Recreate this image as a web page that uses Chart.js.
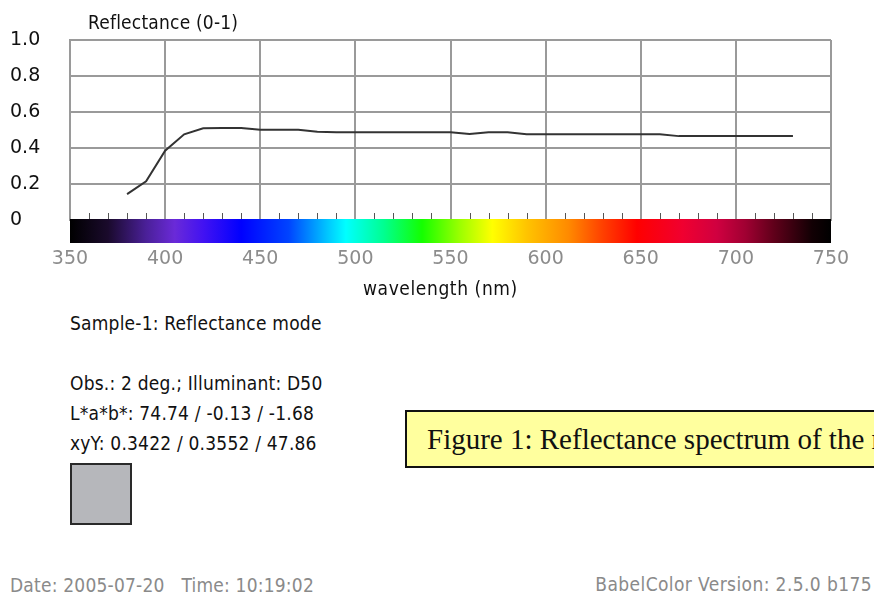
<!DOCTYPE html>
<html>
<head>
<meta charset="utf-8">
<script src="https://cdn.jsdelivr.net/npm/chart.js@4/dist/chart.umd.min.js"></script>
<style>
    html, body { margin: 0; padding: 0; background: #fff; }
    body { width: 874px; height: 595px; position: relative; overflow: hidden;
           font-family: 'DejaVu Sans Condensed', 'DejaVu Sans', sans-serif; font-size: 19px; color: #111; }
    #chart { position: absolute; left: 0; top: 0; }
    .t { position: absolute; white-space: nowrap; line-height: 20px; letter-spacing: 0.2px; }
    .grey { color: #8a8a8a; }
    #swatch { position: absolute; left: 70px; top: 463px; width: 58px; height: 58px;
              background: #b6b7bb; border: 2px solid #2a2a2a; }
    #caption { position: absolute; left: 405px; top: 410px; width: 520px; height: 54px;
               background: #ffff9e; border: 2px solid #111; }
    #caption span { position: absolute; left: 20px; top: 11px; white-space: nowrap;
                    font-family: 'Liberation Serif', serif; font-size: 29px; line-height: 32px; color: #111; }
</style>
</head>
<body>
<canvas id="chart" width="874" height="300"></canvas>

<div class="t" style="left:88px; top:12px;">Reflectance (0-1)</div>
<div class="t" style="left:363px; top:278px; letter-spacing:0.6px;">wavelength (nm)</div>

<div class="t" style="left:70px; top:313px;">Sample-1: Reflectance mode</div>
<div class="t" style="left:70px; top:373px;">Obs.: 2 deg.; Illuminant: D50</div>
<div class="t" style="left:70px; top:403px;">L*a*b*: 74.74 / -0.13 / -1.68</div>
<div class="t" style="left:70px; top:433px;">xyY: 0.3422 / 0.3552 / 47.86</div>
<div id="swatch"></div>

<div id="caption"><span>Figure 1: Reflectance spectrum of the reference sample</span></div>

<div class="t grey" style="left:10px; top:575px;">Date: 2005-07-20&nbsp;&nbsp;&nbsp;Time: 10:19:02</div>
<div class="t grey" style="right:2px; top:574px; letter-spacing:0.4px;">BabelColor Version: 2.5.0 b175</div>

<script>
const wavelengths = [380, 390, 400, 410, 420, 430, 440, 450, 460, 470,
                     480, 490, 500, 510, 520, 530, 540, 550, 560, 570,
                     580, 590, 600, 610, 620, 630, 640, 650, 660, 670,
                     680, 690, 700, 710, 720, 730];
const reflectance = [0.144, 0.215, 0.385, 0.476, 0.510, 0.511, 0.511, 0.502, 0.502, 0.502,
                     0.490, 0.488, 0.488, 0.488, 0.488, 0.488, 0.488, 0.487, 0.478, 0.487,
                     0.487, 0.477, 0.477, 0.477, 0.477, 0.477, 0.477, 0.477, 0.477, 0.466,
                     0.466, 0.466, 0.466, 0.466, 0.466, 0.466];
const xTicks = [350, 400, 450, 500, 550, 600, 650, 700, 750];
const yTicks = [0, 0.2, 0.4, 0.6, 0.8, 1.0];

// colour bar under the plot, wavelength -> colour
const spectrumStops = [
    [350, '#000000'], [370, '#1a0a2c'], [390, '#4a2098'], [405, '#6a2ad8'],
    [420, '#4212f2'], [440, '#0000ff'], [465, '#0044ff'], [485, '#00c4ff'],
    [495, '#00ffff'], [515, '#00ff90'], [535, '#14ff00'], [555, '#9cff00'],
    [572, '#ffff00'], [590, '#ffc400'], [612, '#ff8a00'], [630, '#ff4000'],
    [648, '#ff0000'], [672, '#f00030'], [690, '#d00040'], [705, '#a00032'],
    [720, '#60001a'], [740, '#120004'], [750, '#000000']
];

const spectrumBar = {
    id: 'spectrumBar',
    afterDraw(chart) {
        const ctx = chart.ctx;
        const area = chart.chartArea;
        const x = chart.scales.x;
        const x0 = x.getPixelForValue(350), x1 = x.getPixelForValue(750);
        const top = area.bottom - 1;
        const grad = ctx.createLinearGradient(x0, 0, x1, 0);
        spectrumStops.forEach(([wl, c]) => grad.addColorStop((wl - 350) / 400, c));
        ctx.save();
        ctx.fillStyle = grad;
        ctx.fillRect(x0, top, x1 - x0, 24);
        // small ticks every 10 nm
        ctx.beginPath();
        ctx.strokeStyle = '#555';
        ctx.lineWidth = 1;
        for (let wl = 360; wl < 750; wl += 10) {
            if (wl % 50 === 0) continue;
            const px = Math.round(x.getPixelForValue(wl)) + 0.5;
            ctx.moveTo(px, top - 6);
            ctx.lineTo(px, top);
        }
        ctx.stroke();
        ctx.restore();
    }
};

const gridGrey = '#9a9a9a';
const tickFont = { family: "'DejaVu Sans', sans-serif", size: 19 };

new Chart(document.getElementById('chart').getContext('2d'), {
    type: 'line',
    data: {
        datasets: [{
            data: wavelengths.map((wl, i) => ({ x: wl, y: reflectance[i] })),
            borderColor: '#333',
            borderWidth: 2,
            pointRadius: 0,
            tension: 0,
            fill: false
        }]
    },
    options: {
        responsive: false,
        animation: false,
        layout: { padding: { left: 10, top: 40, right: 43, bottom: 30 } },
        plugins: { legend: { display: false }, tooltip: { enabled: false } },
        scales: {
            x: {
                type: 'linear',
                min: 350,
                max: 750,
                afterBuildTicks: (s) => { s.ticks = xTicks.map(v => ({ value: v })); },
                afterFit: (s) => { s.height = 50; s.paddingLeft = 0; s.paddingRight = 0; },
                grid: { color: gridGrey, lineWidth: 2, drawTicks: false },
                border: { color: gridGrey, width: 2 },
                ticks: { color: '#8c8c8c', font: tickFont, padding: 28, maxRotation: 0 }
            },
            y: {
                min: 0,
                max: 1,
                afterBuildTicks: (s) => { s.ticks = yTicks.map(v => ({ value: v })); },
                afterFit: (s) => { s.width = 60; },
                grid: { color: gridGrey, lineWidth: 2, drawTicks: false },
                border: { color: gridGrey, width: 2 },
                ticks: {
                    color: '#111',
                    font: tickFont,
                    padding: 0,
                    crossAlign: 'far',
                    callback: (v) => v === 0 ? '0' : v.toFixed(1)
                }
            }
        }
    },
    plugins: [spectrumBar]
});
</script>
</body>
</html>
